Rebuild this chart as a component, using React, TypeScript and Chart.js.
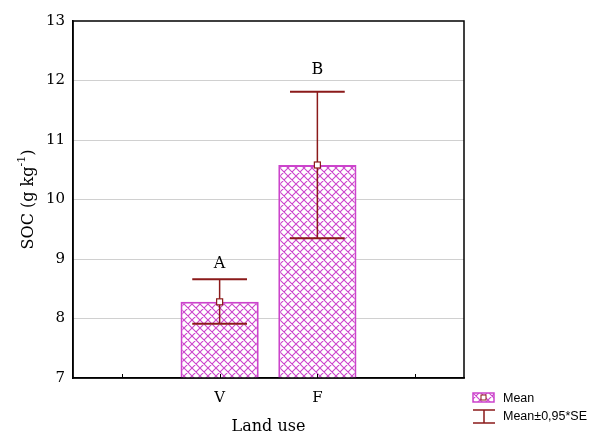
import React, { useEffect, useRef } from "react";
import { Chart, registerables } from "chart.js";

Chart.register(...registerables);

const categories = ["", "V", "F", ""];
const means = [null, 8.28, 10.58, null];
const upper = [null, 8.66, 11.81, null];
const lower = [null, 7.91, 9.35, null];
const letters = ["", "A", "B", ""];
const letterY = [null, 8.92, 12.18, null];
const yTicks = [7, 8, 9, 10, 11, 12, 13];

const SERIF = "'DejaVu Serif', 'Liberation Serif', serif";
const SANS = "'Liberation Sans', Arial, sans-serif";
const MAGENTA = "#cc44cc";
const DARKRED = "#8b1a1a";

function makePattern(): CanvasPattern | string {
  const c = document.createElement("canvas");
  c.width = 8;
  c.height = 8;
  const g = c.getContext("2d");
  if (!g) return MAGENTA;
  g.fillStyle = "#ffffff";
  g.fillRect(0, 0, 8, 8);
  g.strokeStyle = MAGENTA;
  g.lineWidth = 1.1;
  g.beginPath();
  g.moveTo(0, 0);
  g.lineTo(8, 8);
  g.moveTo(8, 0);
  g.lineTo(0, 8);
  g.moveTo(-1, 7);
  g.lineTo(1, 9);
  g.moveTo(7, -1);
  g.lineTo(9, 1);
  g.stroke();
  const p = g.createPattern(c, "repeat");
  return p || MAGENTA;
}

export default function App() {
  const ref = useRef<HTMLCanvasElement>(null);
  useEffect(() => {
    if (!ref.current) return;
    const pattern = makePattern();

    const overlay = {
      id: "overlay",
      afterDatasetsDraw(chart: any) {
        const ctx = chart.ctx;
        const x = chart.scales.x;
        const y = chart.scales.y;
        const ca = chart.chartArea;
        ctx.save();
        // x inner ticks
        ctx.strokeStyle = "#000";
        ctx.lineWidth = 1;
        categories.forEach((_, i) => {
          const px = Math.round(x.getPixelForValue(i)) + 0.5;
          ctx.beginPath();
          ctx.moveTo(px, ca.bottom);
          ctx.lineTo(px, ca.bottom - 4);
          ctx.stroke();
        });
        // frame
        ctx.strokeStyle = "#000";
        ctx.lineWidth = 1.5;
        ctx.strokeRect(ca.left, ca.top, ca.right - ca.left, ca.bottom - ca.top);
        // error bars
        const meta = chart.getDatasetMeta(0);
        means.forEach((m, i) => {
          if (m == null) return;
          const bar = meta.data[i];
          const cx = bar.x;
          const yHi = y.getPixelForValue(upper[i] as number);
          const yLo = y.getPixelForValue(lower[i] as number);
          const yM = y.getPixelForValue(m);
          const half = bar.width * 0.35;
          ctx.strokeStyle = DARKRED;
          ctx.lineWidth = 1.5;
          ctx.beginPath();
          ctx.moveTo(cx, yHi);
          ctx.lineTo(cx, yLo);
          ctx.stroke();
          ctx.lineWidth = 2;
          ctx.beginPath();
          ctx.moveTo(cx - half, yHi);
          ctx.lineTo(cx + half, yHi);
          ctx.moveTo(cx - half, yLo);
          ctx.lineTo(cx + half, yLo);
          ctx.stroke();
          ctx.fillStyle = "#fff";
          ctx.fillRect(cx - 3, yM - 3, 6, 6);
          ctx.lineWidth = 1.2;
          ctx.strokeRect(cx - 3, yM - 3, 6, 6);
          // letters
          ctx.fillStyle = "#000";
          ctx.font = `16px ${SERIF}`;
          ctx.textAlign = "center";
          ctx.textBaseline = "middle";
          ctx.fillText(letters[i], cx, y.getPixelForValue(letterY[i] as number));
        });
        // x title
        ctx.fillStyle = "#000";
        ctx.font = `16px ${SERIF}`;
        ctx.textAlign = "center";
        ctx.textBaseline = "middle";
        ctx.fillText("Land use", (ca.left + ca.right) / 2, 427);
        // y title
        ctx.save();
        ctx.translate(29, (ca.top + ca.bottom) / 2);
        ctx.rotate(-Math.PI / 2);
        ctx.textBaseline = "middle";
        ctx.textAlign = "left";
        const main = "SOC (g kg";
        const sup = "-1";
        const close = ")";
        ctx.font = `16px ${SERIF}`;
        const w1 = ctx.measureText(main).width;
        const w3 = ctx.measureText(close).width;
        ctx.font = `11px ${SERIF}`;
        const w2 = ctx.measureText(sup).width;
        const total = w1 + w2 + w3;
        let sx = -total / 2;
        ctx.font = `16px ${SERIF}`;
        ctx.fillText(main, sx, 0);
        sx += w1;
        ctx.font = `11px ${SERIF}`;
        ctx.fillText(sup, sx, -7);
        sx += w2;
        ctx.font = `16px ${SERIF}`;
        ctx.fillText(close, sx, 0);
        ctx.restore();
        // legend
        const lx = 473;
        ctx.fillStyle = pattern as any;
        ctx.fillRect(lx, 393, 21, 9);
        ctx.strokeStyle = MAGENTA;
        ctx.lineWidth = 1.5;
        ctx.strokeRect(lx, 393, 21, 9);
        ctx.fillStyle = "#fff";
        ctx.fillRect(lx + 8, 395, 5, 5);
        ctx.strokeStyle = DARKRED;
        ctx.lineWidth = 1;
        ctx.strokeRect(lx + 8, 395, 5, 5);
        ctx.strokeStyle = DARKRED;
        ctx.lineWidth = 1.5;
        ctx.beginPath();
        ctx.moveTo(lx, 410);
        ctx.lineTo(lx + 22, 410);
        ctx.moveTo(lx + 11, 410);
        ctx.lineTo(lx + 11, 423);
        ctx.moveTo(lx, 423);
        ctx.lineTo(lx + 22, 423);
        ctx.stroke();
        ctx.fillStyle = "#000";
        ctx.font = `12.5px ${SANS}`;
        ctx.textAlign = "left";
        ctx.textBaseline = "middle";
        ctx.fillText("Mean", 503, 399);
        ctx.fillText("Mean\u00b10,95*SE", 503, 417);
        ctx.restore();
      },
    };

    const chart = new Chart(ref.current, {
      type: "bar",
      data: {
        labels: categories,
        datasets: [
          {
            data: means as any,
            backgroundColor: pattern as any,
            borderColor: MAGENTA,
            borderWidth: 2,
            barPercentage: 0.8,
            categoryPercentage: 1.0,
          },
        ],
      },
      options: {
        animation: false,
        responsive: false,
        layout: { padding: { left: 0, top: 21, right: 127, bottom: 0 } },
        plugins: { legend: { display: false }, tooltip: { enabled: false } },
        scales: {
          x: {
            grid: { display: false, drawTicks: false },
            border: { display: true, color: "#000", width: 1.5 },
            ticks: { color: "#000", font: { family: SERIF, size: 15 }, padding: 11 },
            afterFit(s: any) {
              s.height = 59;
            },
          },
          y: {
            min: 7,
            max: 13,
            afterBuildTicks(s: any) {
              s.ticks = yTicks.map((v) => ({ value: v }));
            },
            grid: {
              drawTicks: false,
              color: (c: any) => (c.tick && (c.tick.value === 7 || c.tick.value === 13) ? "rgba(0,0,0,0)" : "#a0a0a0"),
              lineWidth: 1,
            },
            border: { display: true, color: "#000", width: 1.5, dash: [1, 1] },
            ticks: { color: "#000", font: { family: SERIF, size: 15 }, padding: 8 },
            afterFit(s: any) {
              s.width = 73;
            },
          },
        },
      } as any,
      plugins: [overlay],
    });
    return () => chart.destroy();
  }, []);

  return (
    <div style={{ position: "fixed", left: 0, top: 0, width: 591, height: 437, background: "#fff" }}>
      <canvas ref={ref} width={591} height={437} style={{ width: 591, height: 437 }} />
    </div>
  );
}
